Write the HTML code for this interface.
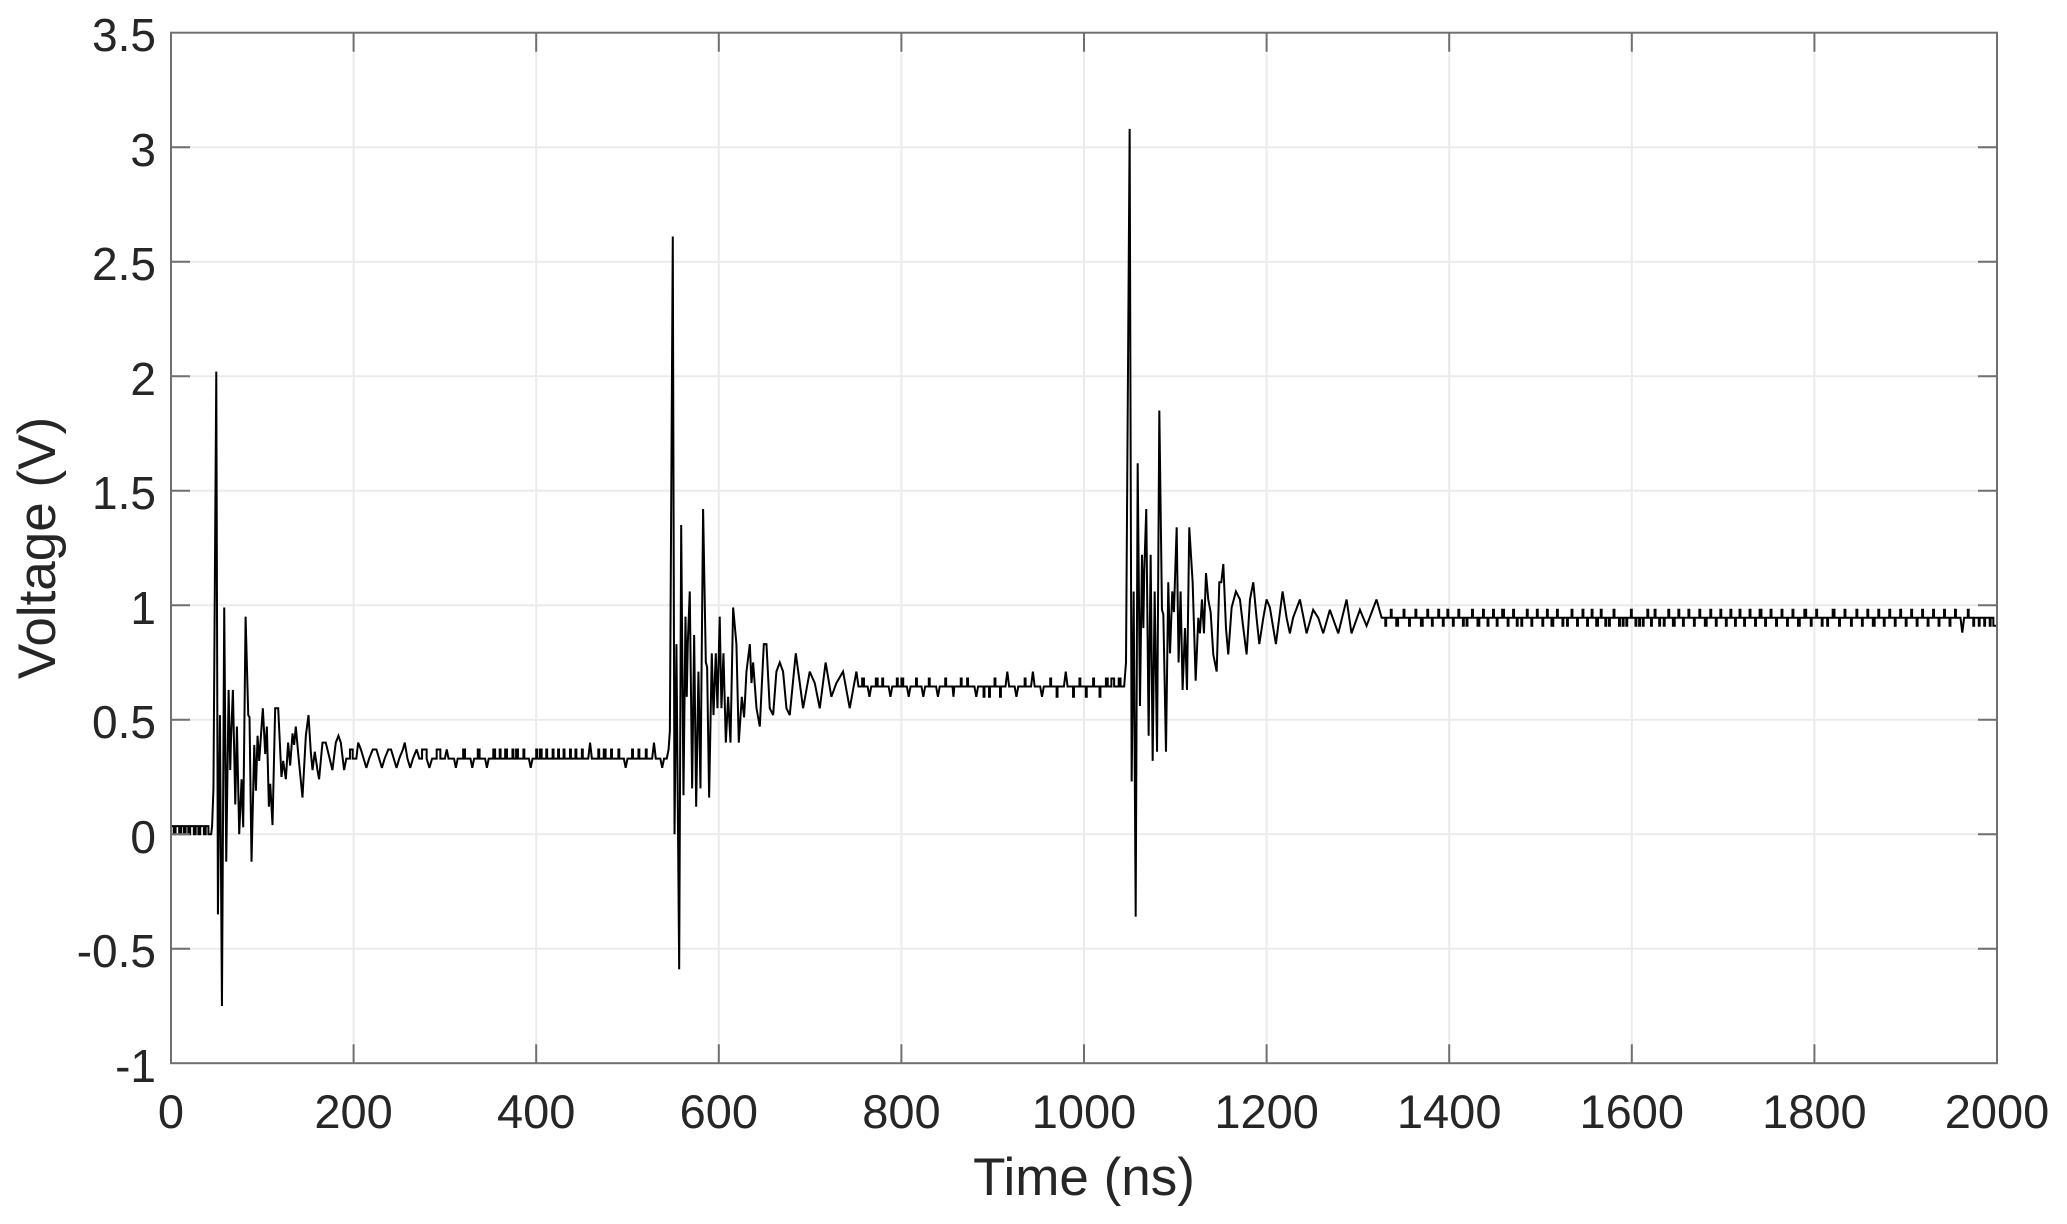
<!DOCTYPE html>
<html><head><meta charset="utf-8"><style>
html,body{margin:0;padding:0;background:#fff;}
svg{display:block;}
text{font-family:"Liberation Sans",Arial,Helvetica,sans-serif;fill:#262626;}
</style></head><body>
<svg width="2067" height="1224" viewBox="0 0 2067 1224" xmlns="http://www.w3.org/2000/svg">
<rect x="0" y="0" width="2067" height="1224" fill="#fff"/>
<g stroke="#ebebeb" stroke-width="2" fill="none">
<path d="M353.6,33V1063M536.2,33V1063M718.8,33V1063M901.4,33V1063M1084,33V1063M1266.6,33V1063M1449.2,33V1063M1631.8,33V1063M1814.4,33V1063"/>
<path d="M171,147.2H1997M171,261.7H1997M171,376.2H1997M171,490.7H1997M171,605.2H1997M171,719.7H1997M171,834.2H1997M171,948.7H1997"/>
</g>
<g transform="matrix(0.913 0 0 -229 171 834.2)">
<path vector-effect="non-scaling-stroke" fill="none" stroke="#000" stroke-width="2" stroke-linejoin="miter" stroke-miterlimit="3" d="
M0,0.035 H3 V0 H5 V0.035 H9 V0 H11 V0.035 H14 V0 H16 V0.035 H19 V0 H21 V0.035 H25 V0 H27 V0.035 H30 V0 H32 V0.035 H36 V0 H38 V0.035 H41 V0 H44
L45,0.035 46.5,0.2 49.6,2.02 51.4,-0.35 53.6,0.52 55.8,-0.75 58.3,0.99 60.5,-0.12 63.1,0.63 64.9,0.28 65.6,0.4 67.8,0.63 70.4,0.13 72.2,0.47 74.7,0 77.3,0.24 79.1,0.03 81.7,0.95 84.6,0.52 86,0.51 88.2,-0.12 91.2,0.39 93,0.19 94.8,0.43 96.6,0.32 100.6,0.55 103.2,0.35 105,0.47 107.2,0.12 108.7,0.22 111.2,0.04 114.1,0.55 117.4,0.55 121,0.25 122.9,0.32 125.8,0.24 128.3,0.4 130.5,0.3 133.1,0.44 134.9,0.39 136.7,0.47 139.6,0.34 144,0.16 147.7,0.43 150.6,0.52 153.1,0.36 155,0.28 157.5,0.36 160.4,0.28 162.2,0.24 165.9,0.40 169.5,0.40 173.2,0.34 176.8,0.28 180.5,0.40 183.4,0.43 186,0.40 189.6,0.28 192,0.33
H196 V0.37 H199 V0.33 H203 L205,0.4 208,0.37 211,0.33 214,0.29 217,0.33 221,0.37 H225 L228,0.33 231,0.29 234,0.33 238,0.37 H241 L244,0.33 247,0.29 250,0.33 254,0.37 256,0.4 259,0.33 262,0.29 265,0.33 269,0.37 272,0.33 H275 V0.37 H280 V0.33 L283,0.29 286,0.33 H291 V0.37 H295 V0.33 H300 L302,0.37 304,0.33 H310 L312,0.29 314,0.33 H320 V0.37 H322 V0.33 H328 L330,0.29 332,0.33 H336 V0.37 H338 V0.33 H344 L346,0.29 348,0.33 H353 V0.37 H355 V0.33 H360 V0.37 H361 V0.33 H366 V0.37 H368 V0.33 H374 V0.37 H375 V0.33 H378 V0.37 H380 V0.33 H386 V0.37 H387 V0.33 H392 L394,0.29 396,0.33 H400 V0.37 H401 V0.33 H404 V0.37 H406 V0.33 H411 V0.37 H412 V0.33 H418 V0.37 H419 V0.33 H424 V0.37 H425 V0.33 H430 V0.37 H431 V0.33 H437 V0.37 H438 V0.33 H443 V0.37 H444 V0.33 H450 V0.37 H451 V0.33 H457 L459,0.4 461,0.33 H468 V0.37 H469 V0.33 H474 V0.37 H476 V0.33 H482 V0.37 H483 V0.33 H490 V0.37 H491 V0.33 H496 L498,0.29 500,0.33 H505 V0.37 H506 V0.33 H512 V0.37 H513 V0.33 H520 V0.37 H521 V0.33 H527 L529,0.4 531,0.33 H536 L538,0.29 540,0.33 H543 L545,0.37 546.4,0.45
549.6,2.61 551.5,0 553.6,0.83 556.6,-0.59 558.8,1.35 561.3,0.17 563.5,0.95 564.9,0.6 566,0.83 568.2,1.06 570.8,0.2 573,0.87 575.2,0.12 577.7,0.71 579.9,0.2 582.8,1.42 585.8,0.75 587.2,0.73 589.4,0.16 592.3,0.79 594.2,0.52 596.7,0.79 598.5,0.55 601,0.95 602.9,0.55 605.1,0.79 607.7,0.40 610.2,0.60 612.8,0.40 615.7,0.99 619.3,0.83 621.9,0.40 625.2,0.60 627.7,0.51 630.3,0.71 634,0.83 635.8,0.66 637.6,0.75 641.3,0.55 644.9,0.47 649.3,0.83 652.2,0.83 655.8,0.55 659.5,0.52 663.1,0.71 666.8,0.75 670.4,0.71 674.1,0.55 677.7,0.52 684.3,0.79 688.7,0.66 692.3,0.55 699.6,0.71 705.1,0.66 710.6,0.55 717,0.75 723.3,0.60 728.8,0.66 736.1,0.71 743.4,0.55 750.7,0.71 753,0.645
H757 V0.68 H759 V0.645 H763 L765,0.6 767,0.645 H772 V0.68 H774 V0.645 H779 V0.68 H780 V0.645 H786 L788,0.6 790,0.645 H795 V0.68 H796 V0.645 H800 V0.68 H802 V0.645 H806 L808,0.6 810,0.645 H816 V0.68 H817 V0.645 H822 L824,0.6 826,0.645 H830 V0.68 H831 V0.645 H838 L840,0.6 842,0.645 H848 V0.68 H849 V0.645 H856 L857,0.6 858,0.645 H865 V0.68 H866 V0.645 H872 V0.68 H873 V0.645 H880 L882,0.6 884,0.645 H890 V0.6 H891 V0.645 H896 V0.6 H897 V0.645 H902 V0.68 H903 V0.645 H908 V0.6 H909 V0.645 H914 L916,0.71 918,0.645 H924 L926,0.6 928,0.645 H935 V0.68 H936 V0.645 H942 L944,0.71 946,0.645 H952 L954,0.6 956,0.645 H963 V0.68 H964 V0.645 H970 V0.6 H971 V0.645 H978 L980,0.71 982,0.645 H988 V0.6 H989 V0.645 H995 V0.68 H996 V0.645 H1002 V0.6 H1003 V0.645 H1010 V0.68 H1011 V0.645 H1017 V0.6 H1018 V0.645 H1024 V0.68 H1026 V0.645 H1030 V0.68 H1033 V0.645 H1038 V0.68 H1040 V0.645 H1044
L1046,0.75 1050,3.08 1052.2,0.23 1054.4,1.06 1056.6,-0.36 1058.8,1.62 1061.3,0.56 1063.5,1.22 1065,0.90 1066,1.15 1068.2,1.42 1070.8,0.43 1073,1.22 1075.2,0.32 1077.4,1.06 1080,0.36 1082.5,1.85 1085.4,0.98 1086.9,0.96 1089.8,0.36 1092.3,1.1 1094.2,0.79 1096.7,1.06 1098.5,0.97 1101.5,1.34 1103.6,0.75 1105.8,1.06 1108,0.63 1110.6,0.90 1112.8,0.63 1115.3,1.34 1119,1.1 1122.3,0.67 1125.2,0.945 1127,0.877 1129.2,1.025 1131.4,0.877 1133.6,1.14 1136.1,1.025 1138.7,0.97 1141.6,0.785 1145.3,0.71 1148.2,1.1 1150.4,1.1 1152.6,1.18 1155.5,0.90 1158,0.785 1161.7,0.99 1166.4,1.06 1170.8,1.025 1174.5,0.90 1178.1,0.785 1181.8,1.025 1185.4,1.1 1189,0.945 1192,0.83 1196.4,0.945 1200,1.025 1203.6,0.99 1210.2,0.83 1217.5,1.06 1221.9,0.945 1225.5,0.877 1229,0.945 1236.5,1.025 1243.8,0.877 1251,0.98 1256.6,0.945 1262,0.877 1269.3,0.98 1278.5,0.877 1287.6,1.025 1293,0.877 1302.2,0.98 1309.5,0.91 1320.4,1.025 1326,0.945
H1330 V0.91 H1331 V0.945 H1336 V0.98 H1337 V0.945 H1342 V0.91 H1344 V0.945 H1350 V0.98 H1351 V0.945 H1356 V0.91 H1357 V0.945 H1363 V0.98 H1364 V0.945 H1369 V0.91 H1371 V0.945 H1376 V0.98 H1377 V0.945 H1381 V0.91 H1382 V0.945 H1388 V0.98 H1389 V0.945 H1393 V0.91 H1394 V0.945 H1398 V0.98 H1399 V0.945 H1404 V0.91 H1405 V0.945 H1410 V0.98 H1411 V0.945 H1415 V0.91 H1416 V0.945 H1419 V0.91 H1420 V0.945 H1425 V0.98 H1426 V0.945 H1431 V0.91 H1433 V0.945 H1437 V0.98 H1438 V0.945 H1442 V0.91 H1443 V0.945 H1448 V0.98 H1449 V0.945 H1452 V0.91 H1453 V0.945 H1458 V0.98 H1460 V0.945 H1464 V0.91 H1465 V0.945 H1470 V0.98 H1471 V0.945 H1474 V0.91 H1475 V0.945 H1479 V0.91 H1480 V0.945 H1485 V0.98 H1486 V0.945 H1490 V0.91 H1491 V0.945 H1496 V0.98 H1497 V0.945 H1502 V0.91 H1503 V0.945 H1507 V0.98 H1508 V0.945 H1512 V0.91 H1514 V0.945 H1518 V0.98 H1519 V0.945 H1524 V0.91 H1525 V0.945 H1529 V0.91 H1530 V0.945 H1534 V0.98 H1535 V0.945 H1540 V0.91 H1541 V0.945 H1546 V0.98 H1547 V0.945 H1551 V0.91 H1552 V0.945 H1556 V0.98 H1557 V0.945 H1561 V0.91 H1563 V0.945 H1566 V0.98 H1567 V0.945 H1571 V0.91 H1572 V0.945 H1575 V0.91 H1576 V0.945 H1580 V0.98 H1581 V0.945 H1586 V0.91 H1587 V0.945 H1590 V0.91 H1591 V0.945 H1594 V0.91 H1595 V0.945 H1599 V0.98 H1600 V0.945 H1604 V0.91 H1605 V0.945 H1608 V0.91 H1609 V0.945 H1612 V0.91 H1613 V0.945 H1617 V0.98 H1618 V0.945 H1621 V0.91 H1622 V0.945 H1625 V0.98 H1626 V0.945 H1630 V0.91 H1631 V0.945 H1635 V0.91 H1636 V0.945 H1640 V0.98 H1641 V0.945 H1645 V0.91 H1647 V0.945 H1651 V0.98 H1652 V0.945 H1656 V0.91 H1657 V0.945 H1662 V0.98 H1663 V0.945 H1668 V0.91 H1669 V0.945 H1674 V0.98 H1675 V0.945 H1680 V0.91 H1682 V0.945 H1686 V0.98 H1687 V0.945 H1692 V0.91 H1693 V0.945 H1697 V0.98 H1698 V0.945 H1703 V0.91 H1704 V0.945 H1708 V0.98 H1709 V0.945 H1713 V0.91 H1714 V0.945 H1718 V0.98 H1719 V0.945 H1723 V0.91 H1724 V0.945 H1729 V0.98 H1730 V0.945 H1735 V0.91 H1736 V0.945 H1740 V0.98 H1742 V0.945 H1746 V0.91 H1747 V0.945 H1752 V0.98 H1753 V0.945 H1758 V0.91 H1759 V0.945 H1764 V0.98 H1765 V0.945 H1770 V0.91 H1771 V0.945 H1776 V0.98 H1777 V0.945 H1782 V0.91 H1784 V0.945 H1789 V0.98 H1791 V0.945 H1796 V0.91 H1797 V0.945 H1802 V0.98 H1803 V0.945 H1808 V0.91 H1809 V0.945 H1814 V0.91 H1815 V0.945 H1820 V0.98 H1822 V0.945 H1827 V0.91 H1828 V0.945 H1833 V0.98 H1834 V0.945 H1840 V0.91 H1841 V0.945 H1846 V0.98 H1847 V0.945 H1852 V0.91 H1853 V0.945 H1858 V0.98 H1859 V0.945 H1864 V0.91 H1866 V0.945 H1870 V0.98 H1871 V0.945 H1876 V0.91 H1877 V0.945 H1882 V0.98 H1883 V0.945 H1888 V0.91 H1889 V0.945 H1894 V0.98 H1895 V0.945 H1900 V0.91 H1901 V0.945 H1906 V0.98 H1907 V0.945 H1912 V0.91 H1913 V0.945 H1918 V0.98 H1919 V0.945 H1924 V0.91 H1925 V0.945 H1930 V0.98 H1931 V0.945 H1936 V0.91 H1937 V0.945 H1942 V0.98 H1943 V0.945 H1948 V0.91 H1949 V0.945 H1954 V0.98 H1955 V0.945 H1960 L1962,0.88 1964,0.945 H1968 V0.98 H1969 V0.945 H1974 V0.91 H1975 V0.945 H1980 V0.91 H1981 V0.945 H1986 V0.91 H1987 V0.945 H1992 V0.91 H1993 V0.945 H1996 V0.91 H2000"/>
</g>
<g stroke="#707070" stroke-width="2" fill="none">
<rect x="171" y="32.7" width="1826" height="1030.5"/>
<path d="M353.6,1063.2V1044.2M536.2,1063.2V1044.2M718.8,1063.2V1044.2M901.4,1063.2V1044.2M1084,1063.2V1044.2M1266.6,1063.2V1044.2M1449.2,1063.2V1044.2M1631.8,1063.2V1044.2M1814.4,1063.2V1044.2"/>
<path d="M353.6,32.7V51.7M536.2,32.7V51.7M718.8,32.7V51.7M901.4,32.7V51.7M1084,32.7V51.7M1266.6,32.7V51.7M1449.2,32.7V51.7M1631.8,32.7V51.7M1814.4,32.7V51.7"/>
<path d="M171,147.2H190M171,261.7H190M171,376.2H190M171,490.7H190M171,605.2H190M171,719.7H190M171,834.2H190M171,948.7H190"/>
<path d="M1997,147.2H1978M1997,261.7H1978M1997,376.2H1978M1997,490.7H1978M1997,605.2H1978M1997,719.7H1978M1997,834.2H1978M1997,948.7H1978"/>
</g>
<g font-size="46" text-anchor="end">
<text x="156" y="51">3.5</text>
<text x="156" y="166">3</text>
<text x="156" y="280">2.5</text>
<text x="156" y="395">2</text>
<text x="156" y="509">1.5</text>
<text x="156" y="624">1</text>
<text x="156" y="738">0.5</text>
<text x="156" y="853">0</text>
<text x="156" y="967">-0.5</text>
<text x="156" y="1082">-1</text>
</g>
<g font-size="47" text-anchor="middle">
<text x="171" y="1128">0</text>
<text x="353.6" y="1128">200</text>
<text x="536.2" y="1128">400</text>
<text x="718.8" y="1128">600</text>
<text x="901.4" y="1128">800</text>
<text x="1084" y="1128">1000</text>
<text x="1266.6" y="1128">1200</text>
<text x="1449.2" y="1128">1400</text>
<text x="1631.8" y="1128">1600</text>
<text x="1814.4" y="1128">1800</text>
<text x="1997" y="1128">2000</text>
</g>
<text x="1084" y="1195" font-size="53" text-anchor="middle">Time (ns)</text>
<text transform="translate(55,548) rotate(-90)" font-size="53" text-anchor="middle">Voltage (V)</text>
</svg>
</body></html>
